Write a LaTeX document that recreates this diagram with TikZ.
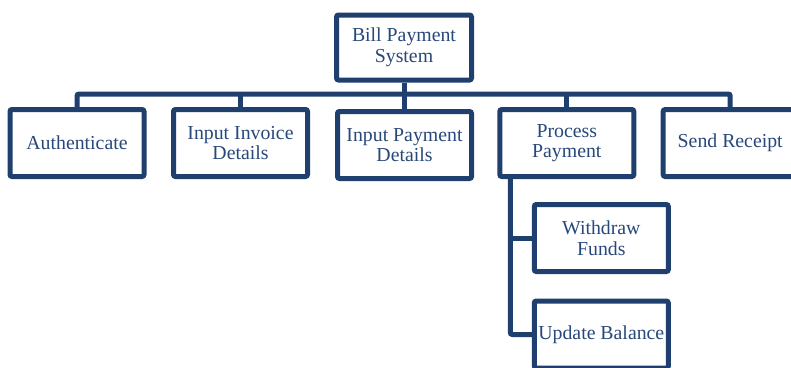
\documentclass[tikz,border=0pt]{standalone}
\usepackage{fontspec}
\setmainfont{Liberation Serif}
\definecolor{boxline}{RGB}{31,63,110}
\definecolor{boxtext}{RGB}{40,72,122}
\tikzset{
  task/.style={draw=boxline, line width=5pt, rounded corners=2pt, fill=white,
    minimum width=134pt, minimum height=67pt, inner sep=2pt,
    align=center, text=boxtext, font=\fontsize{19.8}{20.5}\selectfont},
  conn/.style={draw=boxline, line width=5pt, rounded corners=2pt}
}
\begin{document}
\begin{tikzpicture}[x=1pt, y=-1pt]
\useasboundingbox (0,0) rectangle (791,367);
\coordinate (bus) at (0,94);

% the root and its tasks
\node[task, minimum width=135pt, minimum height=65pt] (top) at (404,47.5) {Bill Payment\\System};
\node[task] (auth) at (77,143) {Authenticate};
\node[task] (inv)  at (240.5,143) {Input Invoice\\Details};
\node[task] (pay)  at (404.5,145) {Input Payment\\Details};
\node[task] (proc) at (566.8,143) {Process\\Payment};
\node[task] (send) at (730.2,143) {Send Receipt};
\node[task] (wd)   at (601.3,238) {Withdraw\\Funds};
\node[task] (upd)  at (601.3,334.5) {Update Balance};

% bus from the root to the first level
\draw[conn] (auth.north) |- (send.north |- bus) -- (send.north);
\draw[conn] (top.south) -- (top.south |- pay.north);
\draw[conn] (inv.north) -- (inv.north |- bus);
\draw[conn] (proc.north) -- (proc.north |- bus);

% children of Process Payment
\coordinate (pv) at ([xshift=13pt]proc.south west);
\draw[conn] (pv) |- (upd.west);
\draw[conn] (pv |- wd.west) -- (wd.west);
\end{tikzpicture}
\end{document}
